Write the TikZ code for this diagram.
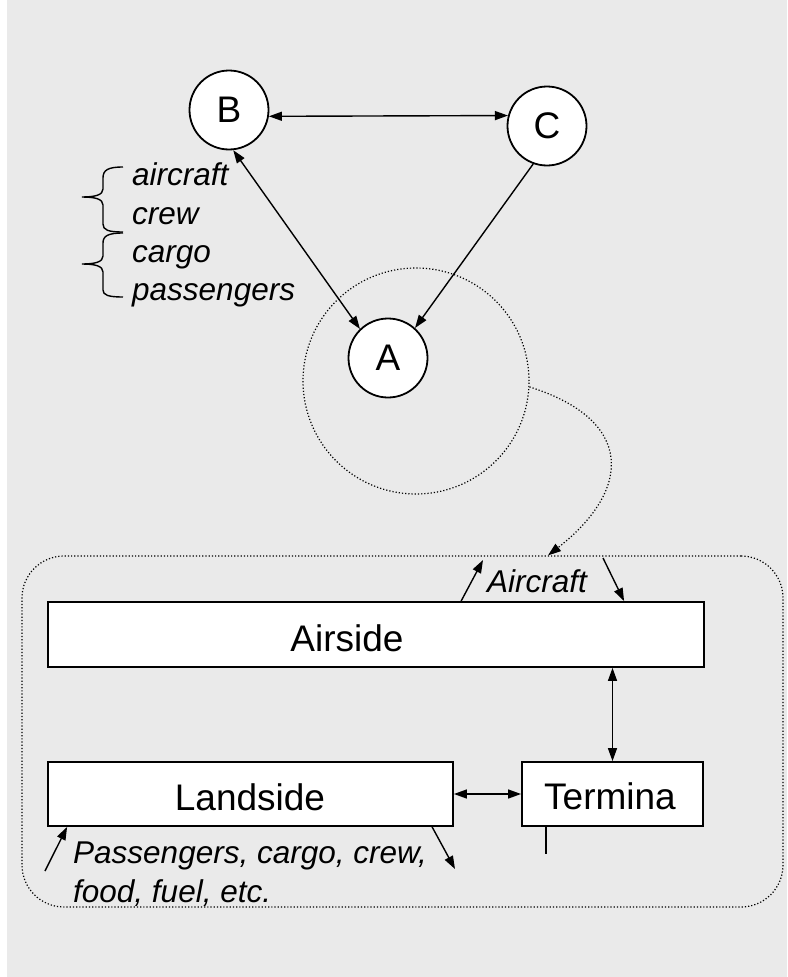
\documentclass[tikz,border=0pt]{standalone}
\usepackage{fontspec}
\setmainfont{Liberation Sans}
\usetikzlibrary{arrows.meta,calc}
\definecolor{bggrey}{RGB}{234,234,234}
\begin{document}
\begin{tikzpicture}[x=1pt,y=-1pt,
  circ/.style={draw, circle, fill=white, line width=1.8pt, minimum size=79pt, inner sep=0pt, font=\fontsize{37}{44}\selectfont},
  ring/.style={draw, circle, dotted, line width=1.2pt, minimum size=226pt, inner sep=0pt},
  boxn/.style={draw, rectangle, fill=white, line width=1.8pt, inner sep=0pt},
  lab/.style={font=\fontsize{37}{44}\selectfont, inner sep=0pt},
  ital/.style={font=\fontsize{31.5}{38}\selectfont\itshape, inner sep=0pt, anchor=base west},
  dbl/.style={line width=1.4pt, {Triangle[length=13pt,width=9pt]}-{Triangle[length=13pt,width=9pt]}},
  sgl/.style={line width=1.4pt, -{Triangle[length=13pt,width=9pt]}},
  bracep/.style={line width=1.4pt},
  dotl/.style={dotted, line width=1.2pt}
]
\fill[white] (0,0) rectangle (787,977);
\fill[bggrey] (7,0) rectangle (787,977);
\useasboundingbox (0,0) rectangle (787,977);

% top triangle of nodes
\node[circ] (B) at (229,110) {B};
\node[circ] (C) at (547,126) {C};
\node[ring] (R) at (416,381) {};
\node[circ] (A) at (388,358) {A};

\draw[dbl] (B.-9) -- (C.165);
\draw[dbl] (B.-84) -- (A.134);
\draw[sgl] (C.-110) -- (A.48);

% braces
\draw[bracep] (123,167) .. controls (108,167) and (103,170) .. (103,178) -- (103,189)
  .. controls (103,195) and (95,197) .. (82,197)
  .. controls (95,197) and (103,199) .. (103,205) -- (103,224)
  .. controls (103,230) and (108,232) .. (123,232);
\draw[bracep] (123,233) .. controls (108,233) and (103,236) .. (103,243) -- (103,256)
  .. controls (103,262) and (95,264) .. (82,264)
  .. controls (95,264) and (103,266) .. (103,272) -- (103,290)
  .. controls (103,295) and (108,297) .. (123,297);
\node[ital] (t1) at (132,185) {aircraft};
\node[ital] (t2) at (132,224) {crew};
\node[ital] (t3) at (132,262) {cargo};
\node[ital] (t4) at (132,300) {passengers};

% system box
\node[draw, dotl, rounded corners=42pt, minimum width=761pt, minimum height=351pt, inner sep=0pt] (S) at (402.5,731.5) {};
\coordinate (cend) at ([xshift=145.5pt]S.north);
\draw[dotl, -{Triangle[length=13pt,width=9pt]}] (R.-3) .. controls (635,420) and (632,490) .. (cend);

\node[boxn, minimum width=656pt, minimum height=65pt] (air) at (376,634.5) {};
\node[lab, anchor=base] (airt) at (347,651) {Airside};
\node[boxn, minimum width=405pt, minimum height=64pt] (land) at (250.5,794) {};
\node[lab, anchor=base] (landt) at (250,810) {Landside};
\node[boxn, minimum width=181pt, minimum height=64pt] (term) at (612.5,794) {};
\node[lab, anchor=base] (termt) at (610,809) {Termina};

\draw[dbl] (air.south -| term.north) -- (term.north);
\draw[dbl] (land.east) -- (term.west);
\draw[line width=1.8pt] ([xshift=25pt]term.south west) -- ++(0,27);

% aircraft flows
\coordinate (ao) at (483,560);
\coordinate (ai) at (603,558);
\draw[sgl] ([xshift=414pt]air.north west) -- (ao);
\draw[sgl] (ai) -- ([xshift=577pt]air.north west);
\node[ital] (acl) at (487,592) {Aircraft};

% landside flows
\coordinate (li) at (45,871);
\coordinate (lo) at (455,869);
\draw[sgl] (li) -- ([xshift=20pt]land.south west);
\draw[sgl] ([xshift=385pt]land.south west) -- (lo);
\node[ital] (p1) at (73,863) {Passengers, cargo, crew,};
\node[ital] (p2) at (73,902) {food, fuel, etc.};
\end{tikzpicture}
\end{document}
